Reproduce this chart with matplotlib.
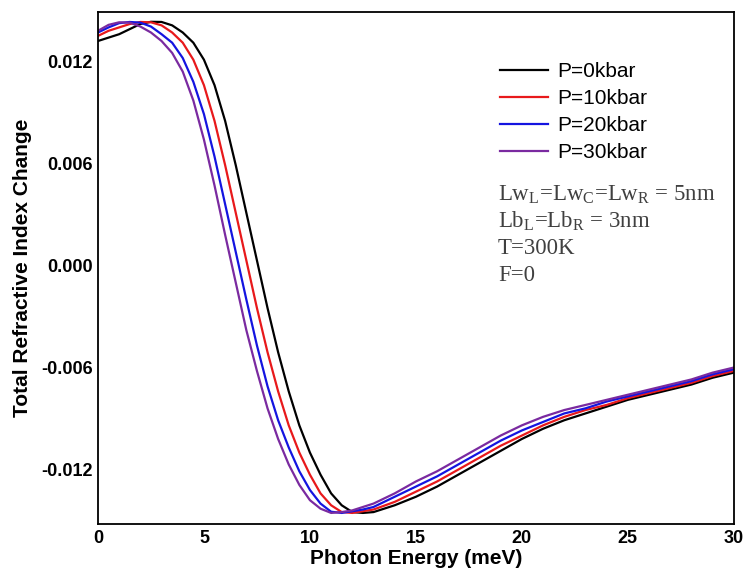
"""Total refractive index change vs photon energy for several pressures."""

import matplotlib
matplotlib.use('Agg')
import matplotlib.pyplot as pyplot

energy = [0, 0.5, 1, 1.5, 2, 2.5, 3, 3.5, 4, 4.5, 5, 5.5, 6, 6.5, 7, 7.5, 8,
          8.5, 9, 9.5, 10, 10.5, 11, 11.5, 12, 12.5, 13, 14, 15, 16, 17, 18,
          19, 20, 21, 22, 23, 24, 25, 26, 27, 28, 29, 30]

n_0kbar = [0.0132, 0.0134, 0.0136, 0.0139, 0.01420, 0.01433, 0.01432, 0.01412,
           0.01370, 0.0131, 0.0121, 0.0106, 0.0085, 0.0059, 0.0031, 0.0003,
           -0.0025, -0.0051, -0.0074, -0.0094, -0.0110, -0.0123, -0.0134,
           -0.0141, -0.01450, -0.01455, -0.01450, -0.0141, -0.0136, -0.0130,
           -0.0123, -0.0116, -0.0109, -0.0102, -0.0096, -0.0091, -0.0087,
           -0.0083, -0.0079, -0.0076, -0.0073, -0.0070, -0.0066, -0.0063]

n_10kbar = [0.0135, 0.0138, 0.0140, 0.01420, 0.01432, 0.01430, 0.01412, 0.01370,
            0.0131, 0.0121, 0.0106, 0.0085, 0.0059, 0.0031, 0.0003, -0.0025,
            -0.0051, -0.0074, -0.0094, -0.0110, -0.0123, -0.0134, -0.0141,
            -0.01450, -0.01455, -0.01445, -0.01435, -0.0139, -0.0133, -0.0127,
            -0.0120, -0.0113, -0.0106, -0.0100, -0.0094, -0.0089, -0.0085,
            -0.0082, -0.0078, -0.0075, -0.0072, -0.0069, -0.0065, -0.0062]

n_20kbar = [0.0137, 0.0140, 0.01425, 0.01432, 0.01428, 0.01405, 0.0136, 0.0131,
            0.0122, 0.0108, 0.0089, 0.0064, 0.0036, 0.0008, -0.0020, -0.0047,
            -0.0071, -0.0091, -0.0107, -0.0121, -0.0132, -0.0140, -0.01448,
            -0.01455, -0.01445, -0.01435, -0.01420, -0.0136, -0.0130, -0.0124,
            -0.0117, -0.0110, -0.0103, -0.0097, -0.0092, -0.0087, -0.0084,
            -0.0080, -0.0077, -0.0074, -0.0071, -0.0068, -0.0064, -0.0061]

n_30kbar = [0.0138, 0.01415, 0.0143, 0.01428, 0.01405, 0.0137, 0.0132, 0.0125,
            0.0114, 0.0097, 0.0074, 0.0047, 0.0018, -0.0010, -0.0038, -0.0062,
            -0.0084, -0.0102, -0.0117, -0.0129, -0.0138, -0.0143, -0.01455,
            -0.01450, -0.01440, -0.01420, -0.01400, -0.0134, -0.0127, -0.0121,
            -0.0114, -0.0107, -0.0100, -0.0094, -0.0089, -0.0085, -0.0082,
            -0.0079, -0.0076, -0.0073, -0.0070, -0.0067, -0.0063, -0.0060]

labels = ['P=0kbar', 'P=10kbar', 'P=20kbar', 'P=30kbar']
colors = ['black', '#e8191b', '#1414e0', '#7a2aa0']
x_ticks = [0, 5, 10, 15, 20, 25, 30]
y_ticks = [-0.012, -0.006, 0.000, 0.006, 0.012]
notes = [r'Lw$_\mathrm{L}$=Lw$_\mathrm{C}$=Lw$_\mathrm{R}$ = 5nm',
         r'Lb$_\mathrm{L}$=Lb$_\mathrm{R}$ = 3nm',
         'T=300K',
         'F=0']

if __name__ == '__main__':
  pyplot.rcParams['font.family'] = ['Liberation Sans', 'DejaVu Sans']
  pyplot.rcParams['mathtext.fontset'] = 'custom'
  pyplot.rcParams['mathtext.rm'] = 'Liberation Serif'

  figure = pyplot.figure(figsize=(7.45, 5.76), dpi=100)
  axes = figure.add_axes([0.1315, 0.0903, 0.8535, 0.8887])

  for series, label, color in zip([n_0kbar, n_10kbar, n_20kbar, n_30kbar],
                                  labels, colors):
    axes.plot(energy, series, '-', color=color, lw=1.6, label=label)

  # format
  axes.set_xlim(0, 30)
  axes.set_ylim(-0.0152, 0.0149)
  axes.set_xticks(x_ticks)
  axes.set_xticklabels([str(v) for v in x_ticks])
  axes.set_yticks(y_ticks)
  axes.set_yticklabels(['%.3f' % v for v in y_ticks])
  axes.tick_params(length=0, labelsize=13, pad=4)
  for tick in axes.get_xticklabels() + axes.get_yticklabels():
    tick.set_fontweight('bold')
  for spine in axes.spines.values():
    spine.set_linewidth(1.3)

  axes.set_xlabel('Photon Energy (meV)', fontsize=15, fontweight='bold',
                  labelpad=2)
  axes.set_ylabel('Total Refractive Index Change', fontsize=15,
                  fontweight='bold', labelpad=6)

  axes.legend(loc='upper left', bbox_to_anchor=(0.632, 0.902), frameon=False,
              fontsize=15, handlelength=2.3, handletextpad=0.45,
              labelspacing=0.38, borderpad=0, borderaxespad=0)

  for i, note in enumerate(notes):
    axes.text(0.629, 0.633 - i * 0.0527, note, transform=axes.transAxes,
              fontsize=16.5, family='Liberation Serif', color='#404040',
              va='baseline')

  figure.savefig('out.png', dpi=100)
